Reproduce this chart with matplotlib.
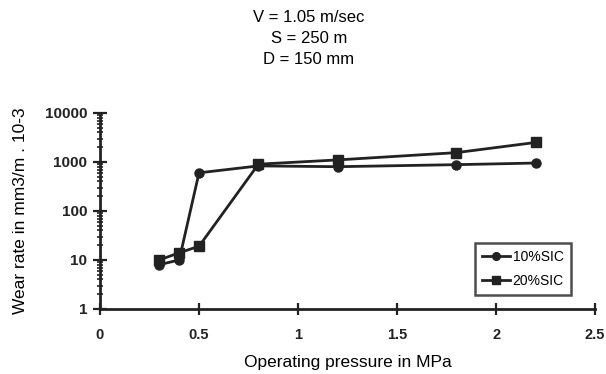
import numpy as np
import matplotlib.pyplot as plt
from matplotlib.ticker import LogLocator, FixedLocator, NullFormatter

plt.rcParams['font.family'] = ['Liberation Sans', 'DejaVu Sans']

# data
pressure = [0.3, 0.4, 0.5, 0.8, 1.2, 1.8, 2.2]
wear_10 = [8, 10, 600, 830, 800, 880, 950]
wear_20 = [10, 14, 19, 900, 1100, 1550, 2500]
labels = ['10%SIC', '20%SIC']
x_ticks = [0, 0.5, 1, 1.5, 2, 2.5]
x_tick_labels = ['0', '0.5', '1', '1.5', '2', '2.5']
y_ticks = [1, 10, 100, 1000, 10000]
y_tick_labels = ['1', '10', '100', '1000', '10000']
title_lines = ['V = 1.05 m/sec', 'S = 250 m', 'D = 150 mm']

fig = plt.figure(figsize=(6.06, 3.74), dpi=100)
ax = fig.add_axes([0.165, 0.174, 0.817, 0.524])

ax.plot(pressure, wear_10, color='#222222', lw=2.0, marker='o', ms=6.5, label=labels[0])
ax.plot(pressure, wear_20, color='#222222', lw=2.0, marker='s', ms=6.5, label=labels[1])

ax.set_yscale('log')
ax.set_xlim(0, 2.5)
ax.set_ylim(1, 10000)
ax.xaxis.set_major_locator(FixedLocator(x_ticks))
ax.set_xticklabels(x_tick_labels, fontsize=10.5, fontweight='bold')
ax.yaxis.set_major_locator(FixedLocator(y_ticks))
ax.set_yticklabels(y_tick_labels, fontsize=11, fontweight='bold')
ax.yaxis.set_minor_locator(LogLocator(base=10, subs=np.arange(2, 10)))
ax.yaxis.set_minor_formatter(NullFormatter())

for s in ['top', 'right']:
    ax.spines[s].set_visible(False)
for s in ['left', 'bottom']:
    ax.spines[s].set_linewidth(2.0)
    ax.spines[s].set_color('#222222')
ax.tick_params(axis='x', direction='inout', length=9, width=1.6, pad=9, colors='#222222')
ax.tick_params(axis='y', which='major', direction='inout', length=10, width=1.6, pad=4, colors='#222222')
ax.tick_params(axis='y', which='minor', direction='inout', length=5, width=1.2, colors='#222222')

ax.set_xlabel('Operating pressure in MPa', fontsize=12.5, va='center')
ax.set_ylabel('Wear rate in mm3/m . 10-3', fontsize=12.5, va='center')
ax.xaxis.set_label_coords(0.5, -0.275)
ax.yaxis.set_label_coords(-0.16, 0.5)

fig.text(0.51, 0.973, '\n'.join(title_lines), ha='center', va='top',
         fontsize=12, linespacing=1.48)

leg = ax.legend(loc='lower right', bbox_to_anchor=(0.965, 0.035), fontsize=10,
                frameon=True, fancybox=False, handlelength=2.0, markerscale=0.85,
                borderpad=0.5, labelspacing=0.75, handletextpad=0.2)
leg.get_frame().set_edgecolor('#222222')
leg.get_frame().set_linewidth(1.8)

fig.savefig('out.png', dpi=100)
